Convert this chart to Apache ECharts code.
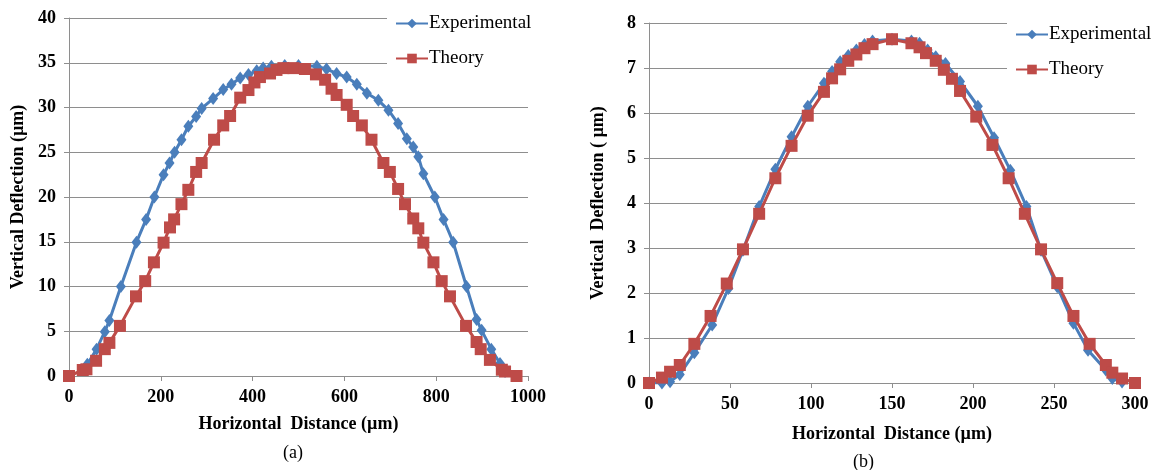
<!DOCTYPE html>
<html>
<head>
<meta charset="utf-8">
<script src="https://cdn.jsdelivr.net/npm/echarts@6/dist/echarts.min.js"></script>
<style>
  html, body { margin: 0; padding: 0; background: #fff; }
  #chart { width: 1165px; height: 470px; }
</style>
</head>
<body>
<div id="chart"></div>
<script>
// (a) values
const expA_x = [40, 60, 78, 88, 113, 147, 168, 186, 206, 219, 230, 245, 260, 277, 289, 314, 336, 354, 373, 391, 409, 423, 441, 470, 500, 540, 561, 583, 605, 627, 649, 674, 696, 717, 736, 750, 761, 772, 797, 816, 837, 866, 888, 899, 920, 939, 950];
const expA_y = [1.3, 3.0, 4.95, 6.2, 10.0, 14.95, 17.5, 20.0, 22.5, 23.8, 25.0, 26.4, 27.9, 29.0, 29.9, 31.0, 32.0, 32.6, 33.3, 33.7, 34.1, 34.4, 34.6, 34.7, 34.7, 34.6, 34.3, 33.8, 33.4, 32.6, 31.6, 30.8, 29.7, 28.2, 26.5, 25.6, 24.5, 22.6, 20.0, 17.5, 14.95, 10.0, 6.3, 5.1, 3.0, 1.4, 0.5];
const theoA_x = [0, 30, 38, 59, 78, 88, 111, 146, 166, 185, 206, 220, 229, 245, 260, 277, 289, 316, 336, 351, 373, 391, 404, 416, 438, 452, 467, 489, 514, 538, 558, 572, 583, 605, 619, 638, 659, 685, 699, 717, 732, 750, 761, 772, 794, 812, 830, 865, 888, 897, 917, 943, 950, 975];
const theoA_y = [0, 0.67, 0.75, 1.7, 3.0, 3.7, 5.6, 8.9, 10.6, 12.7, 14.9, 16.6, 17.5, 19.2, 20.8, 22.8, 23.8, 26.4, 28.0, 29.05, 31.1, 31.95, 32.8, 33.4, 33.8, 34.2, 34.4, 34.4, 34.3, 33.7, 33.1, 32.1, 31.4, 30.3, 29.05, 28.0, 26.4, 23.8, 22.8, 20.9, 19.2, 17.6, 16.5, 14.9, 12.7, 10.6, 8.9, 5.6, 3.8, 3.0, 1.8, 0.7, 0.5, 0];

// (b) values
const expB_x = [0, 8, 13, 19, 28, 39, 49, 58, 68, 78, 88, 98, 108, 113, 118, 123, 128, 133, 138, 150, 162, 167, 172, 177, 183, 192, 203, 213, 223, 233, 242, 252, 262, 271, 282, 286, 292];
const expB_y = [0, 0, 0.03, 0.19, 0.67, 1.29, 2.1, 2.95, 3.92, 4.75, 5.47, 6.15, 6.66, 6.92, 7.14, 7.28, 7.4, 7.52, 7.6, 7.64, 7.6, 7.55, 7.4, 7.25, 7.1, 6.7, 6.15, 5.45, 4.73, 3.92, 2.95, 2.14, 1.33, 0.73, 0.29, 0.1, 0.02];
const theoB_x = [0, 8, 13, 19, 28, 38, 48, 58, 68, 78, 88, 98, 108, 113, 118, 123, 128, 133, 138, 150, 162, 167, 171, 177, 182, 187, 192, 202, 212, 222, 232, 242, 252, 262, 272, 282, 286, 292, 300];
const theoB_y = [0, 0.12, 0.25, 0.4, 0.87, 1.49, 2.21, 2.97, 3.76, 4.55, 5.27, 5.94, 6.47, 6.77, 6.97, 7.16, 7.3, 7.44, 7.53, 7.64, 7.55, 7.46, 7.33, 7.16, 6.96, 6.76, 6.49, 5.92, 5.29, 4.55, 3.76, 2.97, 2.22, 1.49, 0.87, 0.4, 0.23, 0.1, 0];

const seriesNames = ["Experimental", "Theory"];
const xTitle = "Horizontal  Distance (µm)";
const yTitleA = "Vertical Deflection (µm)";
const yTitleB = "Vertical  Deflection ( µm)";

const pairs = (xs, ys) => xs.map((x, i) => [x, ys[i]]);

const BLUE = "#4a7ebb";
const RED = "#be4b48";
const FONT = "'Liberation Serif', 'Times New Roman', serif";
const GRID_COLOR = "#8e8e8e";

function xAxis(idx, max, interval) {
  return {
    gridIndex: idx, type: "value", min: 0, max, interval,
    name: xTitle, nameLocation: "middle", nameGap: idx === 0 ? 39 : 42,
    nameTextStyle: { fontFamily: FONT, fontWeight: "bold", fontSize: 18, color: "#000" },
    axisLine: { show: true, lineStyle: { color: GRID_COLOR, width: 1 } },
    axisTick: { show: true, length: 5, lineStyle: { color: GRID_COLOR } },
    axisLabel: { fontFamily: FONT, fontWeight: "bold", fontSize: 18, color: "#000", margin: 12,
      formatter: (v) => String(v) },
    splitLine: { show: false },
  };
}

function yAxis(idx, max, interval, name) {
  return {
    gridIndex: idx, type: "value", min: 0, max, interval,
    name, nameLocation: "middle", nameGap: 42, nameRotate: 90,
    nameTextStyle: { fontFamily: FONT, fontWeight: "bold", fontSize: 18, color: "#000" },
    axisLine: { show: true, lineStyle: { color: GRID_COLOR, width: 1 } },
    axisTick: { show: true, length: 5, lineStyle: { color: GRID_COLOR } },
    axisLabel: { fontFamily: FONT, fontWeight: "bold", fontSize: 18, color: "#000", margin: 13 },
    splitLine: { show: true, lineStyle: { color: GRID_COLOR, width: 1 } },
  };
}

function line(name, idx, data) {
  const exp = name === "Experimental";
  return {
    name, type: "line", xAxisIndex: idx, yAxisIndex: idx, data,
    symbol: exp ? "diamond" : "rect",
    symbolSize: exp ? [10, 13] : 12,
    itemStyle: { color: exp ? BLUE : RED },
    lineStyle: { color: exp ? BLUE : RED, width: 3 },
    z: exp ? 2 : 3,
    animation: false,
  };
}

function legend(left, top) {
  return {
    data: seriesNames, orient: "vertical", left, top,
    backgroundColor: "#fff", padding: [8, 12, 12, 8], itemGap: 16,
    itemWidth: 32, itemHeight: 12,
    textStyle: { fontFamily: FONT, fontSize: 19, color: "#000", padding: [0, 0, 0, -4] },
    selectedMode: false,
  };
}

const chart = echarts.init(document.getElementById("chart"));
chart.setOption({
  backgroundColor: "#fff",
  animation: false,
  title: [
    { text: "(a)", left: 278, top: 439, textStyle: { fontFamily: FONT, fontWeight: "normal", fontSize: 18, color: "#000" } },
    { text: "(b)", left: 848, top: 448, textStyle: { fontFamily: FONT, fontWeight: "normal", fontSize: 18, color: "#000" } },
  ],
  legend: [legend(387, 6), legend(1007, 17)],
  grid: [
    { left: 69, top: 18, width: 459, height: 358 },
    { left: 649, top: 23, width: 486, height: 360 },
  ],
  xAxis: [xAxis(0, 1000, 200), xAxis(1, 300, 50)],
  yAxis: [yAxis(0, 40, 5, yTitleA), yAxis(1, 8, 1, yTitleB)],
  series: [
    line("Experimental", 0, pairs(expA_x, expA_y)),
    line("Theory", 0, pairs(theoA_x, theoA_y)),
    line("Experimental", 1, pairs(expB_x, expB_y)),
    line("Theory", 1, pairs(theoB_x, theoB_y)),
  ],
});
</script>
</body>
</html>
